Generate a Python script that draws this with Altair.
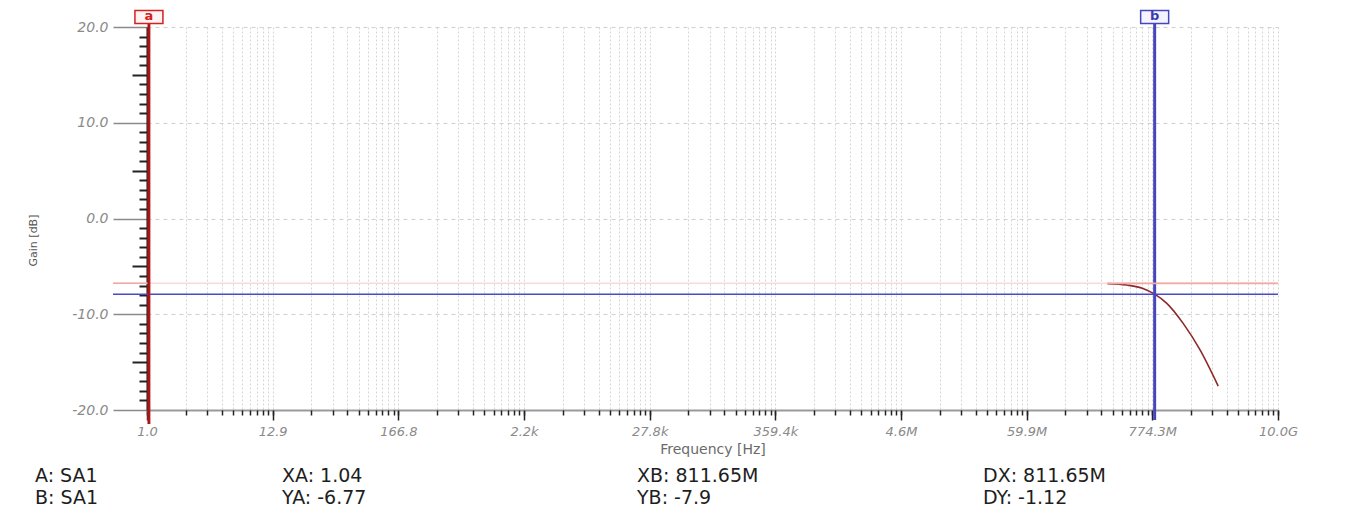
import altair as alt
import pandas as pd

# ---- axis ticks (log scale, 9 equal log-intervals over 10 decades) ----
x_major_ticks = [1.0, 12.915, 166.81, 2154.43, 27825.6, 359381.4,
                 4641588.8, 59948425.0, 774263682.7, 1.0e10]
x_major_labels = ["1.0", "12.9", "166.8", "2.2k", "27.8k", "359.4k",
                  "4.6M", "59.9M", "774.3M", "10.0G"]
y_major_ticks = [-20, -10, 0, 10, 20]
y_mid_ticks = [-15, -5, 5, 15]
y_minor_ticks = [v for v in range(-20, 21) if v % 5 != 0]

# ---- measured gain curve ----
freq_hz = [3.1e8, 4.6e8, 6.4e8, 8.1165e8, 1.04e9, 1.45e9, 2.04e9, 2.96e9]
gain_db = [-6.80, -6.95, -7.30, -7.90, -8.86, -10.95, -13.70, -17.50]

# ---- cursors ----
cursor_names = ["a", "b"]
cursor_x = [1.04, 811.65e6]
cursor_y = [-6.77, -7.9]
x_max = 1.0e10

# ---- readout texts ----
readout_col1 = ["A: SA1", "B: SA1"]
readout_col2 = ["XA: 1.04", "YA: -6.77"]
readout_col3 = ["XB: 811.65M", "YB: -7.9"]
readout_col4 = ["DX: 811.65M", "DY: -1.12"]

# minor x ticks: linear subdivisions between consecutive major ticks
x_minor_ticks = []
for lo, hi in zip(x_major_ticks[:-1], x_major_ticks[1:]):
    for k in range(1, 10):
        x_minor_ticks.append(lo + k * (hi - lo) / 10.0)
x_grid_ticks = x_minor_ticks + x_major_ticks

W, H = 1131, 383
FONT = "DejaVu Sans"

curve_df = pd.DataFrame({"f": freq_hz, "g": gain_db})
one = pd.DataFrame({"k": [0]})

xscale = alt.Scale(type="log", domain=[1, x_max], nice=False)
yscale = alt.Scale(domain=[-20, 20], nice=False, zero=False)

label_arr = "[" + ",".join("'%s'" % s for s in x_major_labels) + "]"
x_label_expr = label_arr + "[round(log(datum.value)/log(10)*0.9)]"

x_axis_major = alt.Axis(
    orient="bottom", values=x_major_ticks, labelExpr=x_label_expr,
    tickSize=10, tickColor="#222222", tickWidth=1.5,
    domainColor="#9a9a9a", domainWidth=2, grid=False,
    labelFont=FONT, labelFontStyle="italic", labelFontSize=13,
    labelColor="#8a8a8a", labelPadding=5, labelFlush=False, labelOverlap=False,
    title="Frequency [Hz]", titleFont=FONT, titleFontSize=14,
    titleFontWeight="normal", titleColor="#6a6a6a", titlePadding=4,
)
y_axis_major = alt.Axis(
    orient="left", values=y_major_ticks,
    labelExpr="(datum.value < 0 ? '-' : '') + format(abs(datum.value), '.1f')",
    tickSize=34, tickColor="#8a8a8a", tickWidth=1.5,
    domainColor="#111111", domainWidth=2,
    grid=True, gridColor="#d0d0d0", gridDash=[4, 4], gridWidth=1,
    labelFont=FONT, labelFontStyle="italic", labelFontSize=14,
    labelColor="#8a8a8a", labelPadding=5,
    title="Gain [dB]", titleFont=FONT, titleFontSize=11,
    titleFontWeight="normal", titleColor="#555555", titleX=-109, titleY=213,
)

curve = alt.Chart(curve_df).mark_line(
    color="#8c2a2a", strokeWidth=1.6, interpolate="monotone"
).encode(
    x=alt.X("f:Q", scale=xscale, axis=x_axis_major),
    y=alt.Y("g:Q", scale=yscale, axis=y_axis_major),
)

minor_axes = alt.Chart(curve_df).mark_line(opacity=0).encode(
    x=alt.X("f:Q", scale=xscale, axis=alt.Axis(
        orient="bottom", values=x_grid_ticks, tickSize=5, tickColor="#222222",
        tickWidth=1.5, labels=False, domain=False, grid=True,
        gridColor="#d6d6d6", gridDash=[2, 2], gridWidth=1, title=None)),
    y=alt.Y("g:Q", scale=yscale, axis=alt.Axis(
        orient="left", values=y_minor_ticks, tickSize=8, tickColor="#222222",
        tickWidth=2, labels=False, domain=False, grid=False, title=None)),
)

mid_axes = alt.Chart(curve_df).mark_line(opacity=0).encode(
    x=alt.X("f:Q", scale=xscale, axis=None),
    y=alt.Y("g:Q", scale=yscale, axis=alt.Axis(
        orient="left", values=y_mid_ticks, tickSize=15, tickColor="#222222",
        tickWidth=2, labels=False, domain=False, grid=False, title=None)),
)

cur_df = pd.DataFrame({"name": cursor_names, "x": cursor_x, "y": cursor_y,
                       "xs": [freq_hz[0], freq_hz[0]], "xe": [x_max, x_max]})
cur_a = cur_df.iloc[[0]]
cur_b = cur_df.iloc[[1]]

# horizontal cursor lines
pink_full = alt.Chart(cur_a).mark_rule(color="#f6dcda", strokeWidth=1.5).encode(
    y=alt.Y("y:Q", scale=yscale, axis=None), x=alt.value(-34), x2=alt.value(W))
pink_left = alt.Chart(cur_a).mark_rule(color="#f2a8a2", strokeWidth=1.5).encode(
    y=alt.Y("y:Q", scale=yscale, axis=None), x=alt.value(-34), x2=alt.value(0))
pink_right = alt.Chart(cur_a).mark_rule(color="#f2aaa4", strokeWidth=1.8).encode(
    x=alt.X("xs:Q", scale=xscale, axis=None), x2="xe:Q",
    y=alt.Y("y:Q", scale=yscale, axis=None))
blue_h = alt.Chart(cur_b).mark_rule(color="#4a4ac8", strokeWidth=1.5).encode(
    y=alt.Y("y:Q", scale=yscale, axis=None), x=alt.value(-34), x2=alt.value(W))

# vertical cursor lines
red_v = alt.Chart(cur_a).mark_rule(color="#d42020", strokeWidth=3).encode(
    x=alt.X("x:Q", scale=xscale, axis=None), y=alt.value(-4), y2=alt.value(H + 14))
red_v_core = alt.Chart(cur_a).mark_rule(color="#7a1010", strokeWidth=1).encode(
    x=alt.X("x:Q", scale=xscale, axis=None), y=alt.value(-4), y2=alt.value(H + 14))
blue_v = alt.Chart(cur_b).mark_rule(color="#4646c0", strokeWidth=3).encode(
    x=alt.X("x:Q", scale=xscale, axis=None), y=alt.value(-4), y2=alt.value(H + 10))

box_shape = "M-1,-0.46H1V0.46H-1Z"
box_a = alt.Chart(cur_a).mark_point(
    shape=box_shape, size=784, filled=True, fill="#fff4f4", stroke="#d42020",
    strokeWidth=1.5, opacity=1).encode(
    x=alt.X("x:Q", scale=xscale, axis=None), y=alt.value(-10))
box_b = alt.Chart(cur_b).mark_point(
    shape=box_shape, size=784, filled=True, fill="#f4f4ff", stroke="#4646c0",
    strokeWidth=1.5, opacity=1).encode(
    x=alt.X("x:Q", scale=xscale, axis=None), y=alt.value(-10))
txt_a = alt.Chart(cur_a).mark_text(
    color="#d42020", font=FONT, fontSize=13, fontWeight="bold", baseline="middle").encode(
    x=alt.X("x:Q", scale=xscale, axis=None), y=alt.value(-11), text="name:N")
txt_b = alt.Chart(cur_b).mark_text(
    color="#3a3ab0", font=FONT, fontSize=13, fontWeight="bold", baseline="middle").encode(
    x=alt.X("x:Q", scale=xscale, axis=None), y=alt.value(-11), text="name:N")


def readout(lines, x):
    layers = []
    for i, s in enumerate(lines):
        layers.append(alt.Chart(one).mark_text(
            align="left", baseline="alphabetic", font=FONT,
            fontSize=19, color="#1e1e1e").encode(
            x=alt.value(x), y=alt.value(455 + 22 * i), text=alt.value(s)))
    return layers


texts = (readout(readout_col1, -112) + readout(readout_col2, 135)
         + readout(readout_col3, 490) + readout(readout_col4, 836))

chart = alt.layer(
    curve, minor_axes, mid_axes,
    pink_full, pink_left, blue_h,
    red_v, red_v_core, blue_v,
    pink_right,
    box_a, box_b, txt_a, txt_b,
    *texts,
).resolve_axis(
    x="independent", y="independent"
).properties(
    width=W, height=H,
    padding={"left": 139, "top": 19, "right": 60, "bottom": 100},
    autosize=alt.AutoSizeParams(type="none"),
    background="white",
).configure_view(stroke=None)

chart.save("out.html", embed_options={"renderer": "svg", "actions": False})
